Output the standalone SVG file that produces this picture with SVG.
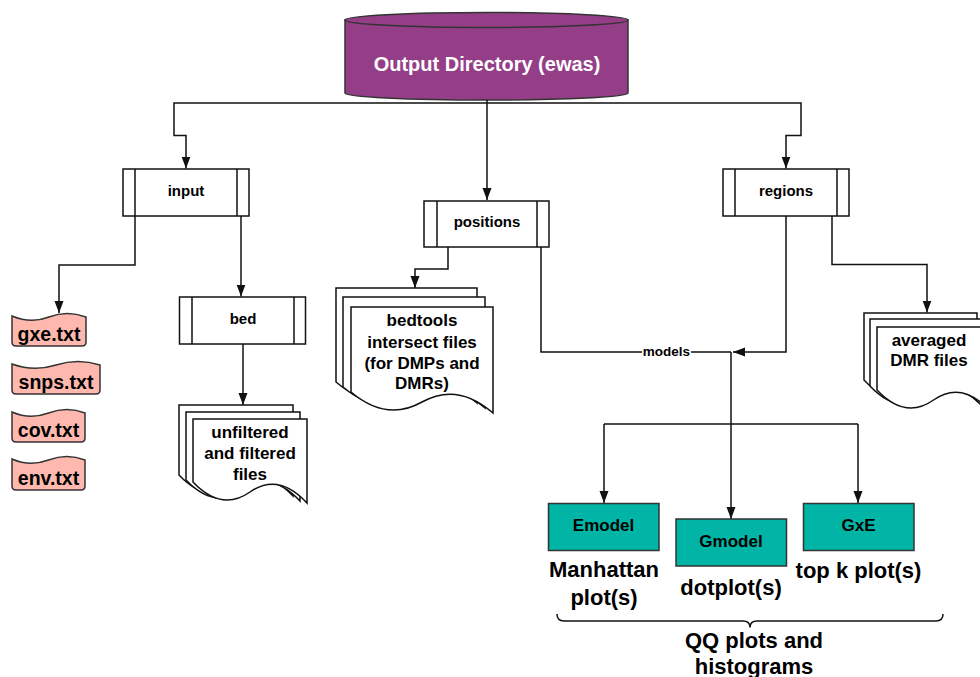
<svg xmlns="http://www.w3.org/2000/svg" width="980" height="677" viewBox="0 0 980 677">
<style>
text{font-family:"Liberation Sans",Arial,sans-serif;font-weight:bold;text-anchor:middle;fill:#000}
.proc{fill:#fff;stroke:#111;stroke-width:1.5}
.doc{fill:#fff;stroke:#111;stroke-width:1.5}
.pink{fill:#ffb8ad;stroke:#333;stroke-width:1.5}
.teal{fill:#00b5a5;stroke:#333;stroke-width:1.5}
.conn path{fill:none;stroke:#111;stroke-width:1.5}
.lbl{font-size:15px}
.dt{font-size:17px}
.pt{font-size:19.5px}
.big{font-size:22px}
</style>
<defs>
<marker id="arr" markerUnits="userSpaceOnUse" markerWidth="12" markerHeight="10" refX="12" refY="5" orient="auto">
<path d="M0,0.5 L12,5 L0,9.5 Z" fill="#111"/>
</marker>
</defs>

<g id="output-directory">
<path d="M345,20 V93 A141.5,7 0 0 0 628,93 V20 Z" fill="#953e88" stroke="#333" stroke-width="1.5"/>
<ellipse cx="486.5" cy="20" rx="141.5" ry="7.5" fill="#953e88" stroke="#333" stroke-width="1.5"/>
<text x="487" y="71" style="font-size:20px;fill:#fff">Output Directory (ewas)</text>
</g>

<g class="conn" id="connectors">
<path d="M487,103 H174 V135.5 H186 V168.5" marker-end="url(#arr)"/>
<path d="M487,103 H801 V135.5 H786 V168.5" marker-end="url(#arr)"/>
<path d="M487,100 V200" marker-end="url(#arr)"/>
<path d="M135,216 V265 H59 V313" marker-end="url(#arr)"/>
<path d="M241,216 V296.5" marker-end="url(#arr)"/>
<path d="M243,344 V405" marker-end="url(#arr)"/>
<path d="M448,247 V269 H415 V288" marker-end="url(#arr)"/>
<path d="M541,247 V352 H731"/>
<path d="M786,216 V352 H733" marker-end="url(#arr)"/>
<path d="M832,216 V264.5 H927 V312.5" marker-end="url(#arr)"/>
<path d="M731,352 V519" marker-end="url(#arr)"/>
<path d="M604,424 H858"/>
<path d="M604,424 V503" marker-end="url(#arr)"/>
<path d="M858,424 V503" marker-end="url(#arr)"/>
<rect x="642" y="344" width="49" height="14" fill="#fff"/>
<text x="666.5" y="355.5" style="font-size:13.5px">models</text>
<path d="M557,614 Q557,621 564,621 H743 Q750,621 750,627.5 Q750,621 757,621 H936 Q943,621 943,614"/>
</g>

<g id="input">
<rect class="proc" x="123" y="169" width="126" height="47"/>
<path d="M135,169 V216 M237,169 V216" stroke="#111" stroke-width="1.5"/>
<text class="lbl" x="186" y="196">input</text>
</g>

<g id="positions">
<rect class="proc" x="424" y="201" width="125" height="46"/>
<path d="M437,201 V247 M537,201 V247" stroke="#111" stroke-width="1.5"/>
<text class="lbl" x="487" y="227">positions</text>
</g>

<g id="regions">
<rect class="proc" x="723" y="169" width="126" height="47"/>
<path d="M735,169 V216 M837,169 V216" stroke="#111" stroke-width="1.5"/>
<text class="lbl" x="786" y="196">regions</text>
</g>

<g id="bed">
<rect class="proc" x="179.5" y="297" width="126" height="47"/>
<path d="M192,297 V344 M294,297 V344" stroke="#111" stroke-width="1.5"/>
<text class="lbl" x="243" y="324">bed</text>
</g>

<g id="gxe-txt">
<path class="pink" d="M12,316 Q31,324 49,317 T86,317 V342 Q86,346 82,346 H16 Q12,346 12,342 Z"/>
<text class="pt" x="49" y="340.5">gxe.txt</text>
</g>
<g id="snps-txt">
<path class="pink" d="M12,364 Q34,372 56,365 T100,365 V390 Q100,394 96,394 H16 Q12,394 12,390 Z"/>
<text class="pt" x="56" y="389">snps.txt</text>
</g>
<g id="cov-txt">
<path class="pink" d="M12,412 Q30,420 48.5,413 T85,413 V438 Q85,442 81,442 H16 Q12,442 12,438 Z"/>
<text class="pt" x="48.5" y="437">cov.txt</text>
</g>
<g id="env-txt">
<path class="pink" d="M12,459 Q30,467 48.5,460 T85,460 V486 Q85,490 81,490 H16 Q12,490 12,486 Z"/>
<text class="pt" x="48.5" y="484.5">env.txt</text>
</g>

<g id="unfiltered-files">
<path class="doc" d="M179,405 H293 V496 Q264.5,465 236,485 Q207.5,505 179,475 Z"/>
<path class="doc" d="M186,412 H300 V501 Q271.5,470 243,490 Q214.5,510 186,480 Z"/>
<path class="doc" d="M193,419 H307 V503 Q278.5,472 250,492 Q221.5,512 193,482 Z"/>
<text class="dt" x="250" y="438">unfiltered</text>
<text class="dt" x="250" y="459">and filtered</text>
<text class="dt" x="250" y="480">files</text>
</g>

<g id="bedtools-files">
<path class="doc" d="M336,288 H477 V403 Q441.75,372 406.5,392 Q371.25,412 336,382 Z"/>
<path class="doc" d="M343,297 H485 V408 Q449.5,377 414,397 Q378.5,417 343,387 Z"/>
<path class="doc" d="M351,307 H493 V413 Q457.5,382 422,402 Q386.5,422 351,392 Z"/>
<text class="dt" x="422" y="326">bedtools</text>
<text class="dt" x="422" y="347.5">intersect files</text>
<text class="dt" x="422" y="368.5">(for DMPs and</text>
<text class="dt" x="422" y="389">DMRs)</text>
</g>

<g id="averaged-files">
<path class="doc" d="M864,313 H977 V401 Q948.75,370 920.5,390 Q892.25,410 864,380 Z"/>
<path class="doc" d="M870,319 H983 V407 Q954.75,376 926.5,396 Q898.25,416 870,386 Z"/>
<path class="doc" d="M877,327 H990 V411 Q961.75,380 933.5,400 Q905.25,420 877,390 Z"/>
<text class="dt" x="929" y="345.5">averaged</text>
<text class="dt" x="929" y="366">DMR files</text>
</g>

<g id="emodel">
<rect class="teal" x="548.5" y="503.5" width="110.5" height="47"/>
<text class="dt" x="603.5" y="531">Emodel</text>
</g>
<g id="gmodel">
<rect class="teal" x="676" y="519" width="110.5" height="47"/>
<text class="dt" x="731" y="547">Gmodel</text>
</g>
<g id="gxe">
<rect class="teal" x="803.5" y="503.5" width="110.5" height="47"/>
<text class="dt" x="858.5" y="531">GxE</text>
</g>

<g id="plot-labels">
<text class="big" x="604" y="577">Manhattan</text>
<text class="big" x="604" y="605">plot(s)</text>
<text class="big" x="731" y="594.5">dotplot(s)</text>
<text class="big" x="858.5" y="578">top k plot(s)</text>
<text class="big" x="754" y="648">QQ plots and</text>
<text class="big" x="754" y="674">histograms</text>
</g>
</svg>
